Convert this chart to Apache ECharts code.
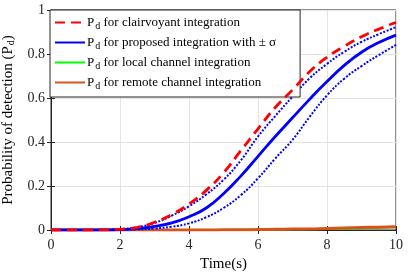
<!DOCTYPE html>
<html><head><meta charset="utf-8">
<script src="https://cdn.jsdelivr.net/npm/echarts@6/dist/echarts.min.js"></script>
<style>html,body{margin:0;padding:0;background:#fff}#c{width:415px;height:272px}</style>
</head><body><div id="c"></div>
<script>
const times = [0,0.5,1,1.5,2,2.5,3,3.5,4,4.5,5,5.5,6,6.5,7,7.5,8,8.5,9,9.5,10];
const clairvoyant   = [0,0,0,0.001,0.004,0.012,0.035,0.07,0.118,0.18,0.26,0.36,0.46,0.557,0.637,0.72,0.785,0.835,0.878,0.913,0.943];
const proposed      = [0,0,0,0,0.002,0.006,0.016,0.032,0.06,0.1,0.165,0.245,0.335,0.425,0.51,0.595,0.675,0.748,0.808,0.852,0.886];
const proposedUpper = [0,0,0,0.001,0.004,0.013,0.032,0.065,0.108,0.162,0.228,0.316,0.425,0.518,0.606,0.69,0.755,0.81,0.855,0.89,0.922];
const proposedLower = [0,0,0,0,0.001,0.003,0.007,0.015,0.03,0.058,0.1,0.158,0.235,0.325,0.41,0.515,0.612,0.688,0.745,0.795,0.841];
const local  = [0,0,0,0,0,0,0,0,0,0,0,0.001,0.001,0.002,0.003,0.004,0.005,0.006,0.008,0.01,0.012];
const remote = [0,0,0,0,0,0,0,0,0,0,0.001,0.001,0.002,0.003,0.004,0.005,0.007,0.009,0.011,0.013,0.015];
const legendNames = ['clairvoyant','proposed','local','remote'];
const legendTexts = {
  clairvoyant:'for clairvoyant integration',
  proposed:'for proposed integration with ± σ',
  local:'for local channel integration',
  remote:'for remote channel integration'
};
const pair = a => times.map((t,i)=>[t,a[i]]);
const F = 'Liberation Serif, Times New Roman, serif';
const richPd = fs => ({
  p:{fontFamily:F,fontSize:fs,color:'#000'},
  s:{fontFamily:F,fontSize:10,color:'#000',verticalAlign:'bottom',padding:[7,0,0,1]},
  t:{fontFamily:F,fontSize:fs,color:'#000'}
});
const chart = echarts.init(document.getElementById('c'));
chart.setOption({
  animation:false,
  backgroundColor:'#fff',
  grid:{left:51,right:19,top:10,bottom:42,outerBoundsMode:'none',containLabel:false,show:true,borderColor:'#262626',borderWidth:1,backgroundColor:'transparent'},
  legend:{
    data:legendNames, left:50, top:10, orient:'vertical',
    itemWidth:30, itemHeight:14, itemGap:5,
    padding:[6,24,6,4],
    backgroundColor:'#fff', borderColor:'#262626', borderWidth:1, borderRadius:0,
    itemStyle:{opacity:0,borderWidth:0},
    formatter:n=>'{p|P}{s|d}{t| '+legendTexts[n]+'}',
    textStyle:{fontFamily:F,fontSize:13,color:'#000',padding:[0,0,0,-3],rich:richPd(13)}
  },
  xAxis:[{
    type:'value',min:0,max:10,interval:2,
    name:'Time(s)',nameLocation:'middle',nameGap:25,
    nameTextStyle:{fontFamily:F,fontSize:15,color:'#000'},
    axisLine:{show:true,lineStyle:{color:'#262626'}},
    axisTick:{inside:true,length:4,lineStyle:{color:'#262626'}},
    axisLabel:{fontFamily:F,fontSize:14,color:'#262626',margin:8,formatter:v=>String(v)},
    splitLine:{show:true,lineStyle:{color:'#e3e3e3',width:1}}
  },{
    type:'value',min:0,max:10,interval:2,position:'top',
    axisLine:{show:true,lineStyle:{color:'#262626'}},
    axisTick:{inside:true,length:4,lineStyle:{color:'#262626'}},
    axisLabel:{show:false},splitLine:{show:false}
  }],
  yAxis:[{
    type:'value',min:0,max:1,interval:0.2,
    name:'{t|Probability of detection (}{p|P}{s|d}{t|)}',nameLocation:'middle',nameGap:32,
    nameTextStyle:{fontFamily:F,fontSize:14,color:'#000',rich:richPd(15)},
    axisLine:{show:true,lineStyle:{color:'#262626'}},
    axisTick:{inside:true,length:4,lineStyle:{color:'#262626'}},
    axisLabel:{fontFamily:F,fontSize:14,color:'#262626',margin:6,formatter:v=>String(+v.toFixed(1))},
    splitLine:{show:true,lineStyle:{color:'#e3e3e3',width:1}}
  },{
    type:'value',min:0,max:1,interval:0.2,position:'right',
    axisLine:{show:true,lineStyle:{color:'#262626'}},
    axisTick:{inside:true,length:4,lineStyle:{color:'#262626'}},
    axisLabel:{show:false},splitLine:{show:false}
  }],
  series:[
    {name:'local',type:'line',data:pair(local),symbol:'none',smooth:true,color:'#00FF00',lineStyle:{color:'#00FF00',width:2},z:1},
    {name:'remote',type:'line',data:pair(remote),symbol:'none',smooth:true,color:'#D95319',lineStyle:{color:'#D95319',width:3},z:2},
    {name:'upper',type:'line',data:pair(proposedUpper),symbol:'none',smooth:true,color:'#0000FF',lineStyle:{color:'#0000FF',width:2,type:[2,1.6]},z:3},
    {name:'lower',type:'line',data:pair(proposedLower),symbol:'none',smooth:true,color:'#0000FF',lineStyle:{color:'#0000FF',width:2,type:[2,1.6]},z:3},
    {name:'proposed',type:'line',data:pair(proposed),symbol:'none',smooth:true,color:'#0000FF',lineStyle:{color:'#0000FF',width:2.8},z:4},
    {name:'clairvoyant',type:'line',data:pair(clairvoyant),symbol:'none',smooth:true,color:'#FF0000',lineStyle:{color:'#FF0000',width:2.8,type:[10,6]},z:5}
  ]
});
</script></body></html>
